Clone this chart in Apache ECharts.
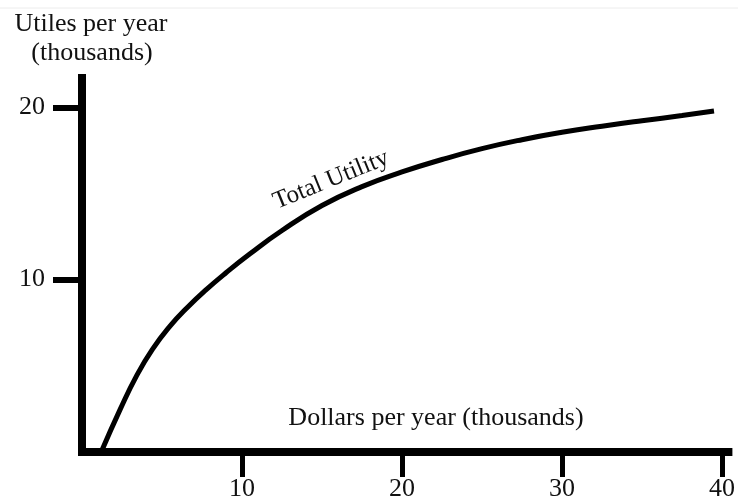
<!DOCTYPE html>
<html>
<head>
<meta charset="utf-8">
<script src="https://cdn.jsdelivr.net/npm/echarts@6/dist/echarts.min.js"></script>
<style>
  html, body { margin: 0; padding: 0; background: #fff; }
  #chart { width: 738px; height: 504px; }
</style>
</head>
<body>
<div id="chart"></div>
<script>
// dollars per year (thousands)
const dollars = [1.2, 2.4, 3.4, 4.4, 5.5, 6.6, 7.8, 9, 10.5, 12.5, 15, 17.5, 20, 22.5, 25, 27.5, 30, 32.5, 35, 37.5, 39.5];
// utiles per year (thousands)
const utiles = [0, 2.5, 4.4, 5.95, 7.3, 8.4, 9.45, 10.4, 11.5, 12.85, 14.3, 15.4, 16.25, 16.97, 17.6, 18.12, 18.55, 18.9, 19.22, 19.52, 19.78];
const xTicks = [10, 20, 30, 40];
const yTicks = [10, 20];

const serif = "'Liberation Serif', 'DejaVu Serif', serif";
const chart = echarts.init(document.getElementById("chart"));

chart.setOption({
    animation: false,
    backgroundColor: "#fff",
    grid: { left: 82, right: 9, top: 78, bottom: 52 },
    xAxis: {
        type: "value",
        min: 0,
        max: 40.4,
        splitLine: { show: false },
        axisLine: { lineStyle: { color: "#000", width: 8, cap: "square" } },
        axisTick: {
            show: true,
            length: 25,
            customValues: xTicks,
            lineStyle: { color: "#000", width: 5 },
        },
        axisLabel: {
            customValues: xTicks,
            margin: 24,
            color: "#111",
            fontSize: 26,
            fontFamily: serif,
        },
    },
    yAxis: {
        type: "value",
        min: 0,
        max: 21.7,
        splitLine: { show: false },
        axisLine: { lineStyle: { color: "#000", width: 8, cap: "square" } },
        axisTick: {
            show: true,
            length: 29,
            customValues: yTicks,
            lineStyle: { color: "#000", width: 6 },
        },
        axisLabel: {
            customValues: yTicks,
            margin: 37,
            color: "#111",
            fontSize: 26,
            fontFamily: serif,
        },
    },
    graphic: [
        {
            type: "line",
            shape: { x1: 0, y1: 8, x2: 738, y2: 8 },
            style: { stroke: "#ececec", lineWidth: 1 },
        },
        {
            type: "text",
            x: 91, y: 24,
            style: { text: "Utiles per year", font: "26px " + serif, fill: "#111", align: "center", verticalAlign: "middle" },
        },
        {
            type: "text",
            x: 92, y: 53,
            style: { text: "(thousands)", font: "26px " + serif, fill: "#111", align: "center", verticalAlign: "middle" },
        },
        {
            type: "text",
            x: 436, y: 418,
            style: { text: "Dollars per year (thousands)", font: "26px " + serif, fill: "#111", align: "center", verticalAlign: "middle" },
        },
        {
            type: "text",
            x: 331, y: 180,
            rotation: 22 * Math.PI / 180,
            style: { text: "Total Utility", font: "25px " + serif, fill: "#111", align: "center", verticalAlign: "middle" },
        },
    ],
    series: [
        {
            type: "line",
            smooth: 0.5,
            symbol: "none",
            data: dollars.map((d, i) => [d, utiles[i]]),
            lineStyle: { color: "#000", width: 5 },
        },
    ],
});
</script>
</body>
</html>
